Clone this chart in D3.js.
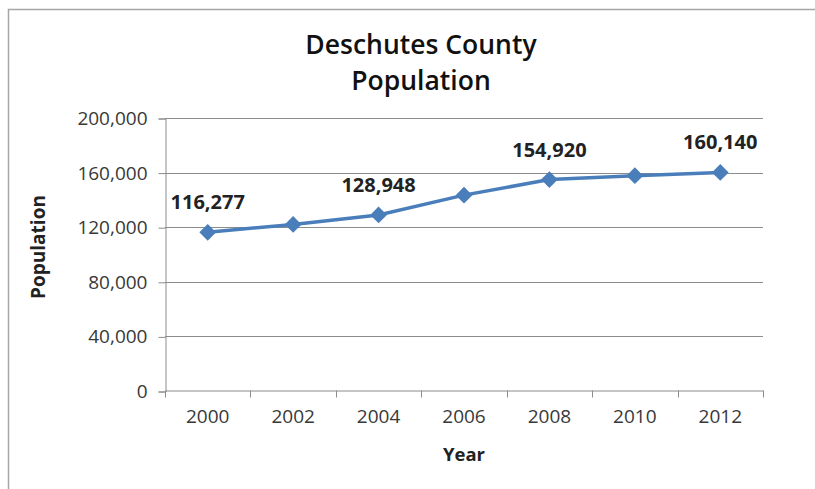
<!DOCTYPE html>
<html>
<head>
<meta charset="utf-8">
<script src="https://cdn.jsdelivr.net/npm/d3@7"></script>
<style>
  body { margin: 0; background: #fff; }
  text { font-family: "Open Sans", sans-serif; }
</style>
</head>
<body>
<svg></svg>
<script>
// data
var years = ["2000", "2002", "2004", "2006", "2008", "2010", "2012"];
var population = [116277, 122050, 128948, 143490, 154920, 157733, 160140];
var labelledYears = ["2000", "2004", "2008", "2012"];
var yTicks = [0, 40000, 80000, 120000, 160000, 200000];

var svg = d3.select("svg")
    .attr("width", 815)
    .attr("height", 489);

// chart frame (only top + left edges visible)
svg.append("path")
    .attr("d", "M8.5,489V9.5H815")
    .style("fill", "none")
    .style("stroke", "#a6a6a6")
    .style("stroke-width", "1.5px");

var x = d3.scaleBand().domain(years).range([165, 763]);
var y = d3.scaleLinear().domain([0, 200000]).range([391, 118]);
var cx = function(d) { return x(d) + x.bandwidth() / 2; };

// gridlines
svg.append("g").selectAll("line")
    .data(yTicks.slice(1))
    .enter().append("line")
    .attr("x1", 165).attr("x2", 763)
    .attr("y1", function(d) { return Math.round(y(d)) + 0.5; })
    .attr("y2", function(d) { return Math.round(y(d)) + 0.5; })
    .style("stroke", "#8c8c8c")
    .style("stroke-width", "1px");

// y axis
var yAxis = svg.append("g")
    .attr("transform", "translate(165.5,0.5)")
    .call(d3.axisLeft(y).tickValues(yTicks).tickSize(7).tickPadding(11)
        .tickFormat(d3.format(",")));
yAxis.selectAll("path, line").style("stroke", "#8c8c8c");
yAxis.selectAll("text")
    .style("font-size", "19px")
    .style("fill", "#383838");

// x axis: labels in the middle, ticks on the band edges
var xAxis = svg.append("g")
    .attr("transform", "translate(0,390.5)")
    .call(d3.axisBottom(x).tickSize(0).tickPadding(19));
xAxis.select("path").style("stroke", "#8c8c8c");
xAxis.selectAll("text")
    .style("font-size", "19px")
    .style("fill", "#383838");

var edges = years.map(function(d) { return x(d); }).concat([x.range()[1]]);
svg.append("g").selectAll("line")
    .data(edges)
    .enter().append("line")
    .attr("x1", function(d) { return Math.round(d) + 0.5; })
    .attr("x2", function(d) { return Math.round(d) + 0.5; })
    .attr("y1", 390.5).attr("y2", 397.5)
    .style("stroke", "#8c8c8c");

// series line
var line = d3.line()
    .x(function(d, i) { return cx(years[i]); })
    .y(function(d) { return y(d); });

svg.append("path")
    .datum(population)
    .attr("d", line)
    .style("fill", "none")
    .style("stroke", "#4a7ebb")
    .style("stroke-width", "3.5px");

// diamond markers
svg.append("g").selectAll("path")
    .data(population)
    .enter().append("path")
    .attr("d", d3.symbol(d3.symbolSquare, 140))
    .attr("transform", function(d, i) {
        return "translate(" + cx(years[i]) + "," + y(d) + ") rotate(45)";
    })
    .style("fill", "#4a7ebb");

// data labels
svg.append("g").selectAll("text")
    .data(years.filter(function(d) { return labelledYears.indexOf(d) >= 0; }))
    .enter().append("text")
    .attr("x", function(d) { return cx(d); })
    .attr("y", function(d) { return y(population[years.indexOf(d)]) - 23; })
    .attr("text-anchor", "middle")
    .style("font-size", "20px")
    .style("font-weight", "bold")
    .style("fill", "#222")
    .text(function(d) { return d3.format(",")(population[years.indexOf(d)]); });

// title
var title = svg.append("text")
    .attr("text-anchor", "middle")
    .style("font-size", "26.5px")
    .style("font-weight", "600")
    .style("fill", "#111");
title.append("tspan").attr("x", 421).attr("y", 54).text("Deschutes County");
title.append("tspan").attr("x", 421).attr("y", 90).text("Population");

// axis titles
svg.append("text")
    .attr("transform", "translate(45,247) rotate(-90)")
    .attr("text-anchor", "middle")
    .style("font-size", "19px")
    .style("font-weight", "bold")
    .style("fill", "#222")
    .text("Population");

svg.append("text")
    .attr("x", 464).attr("y", 461)
    .attr("text-anchor", "middle")
    .style("font-size", "18.5px")
    .style("font-weight", "bold")
    .style("fill", "#222")
    .text("Year");
</script>
</body>
</html>
